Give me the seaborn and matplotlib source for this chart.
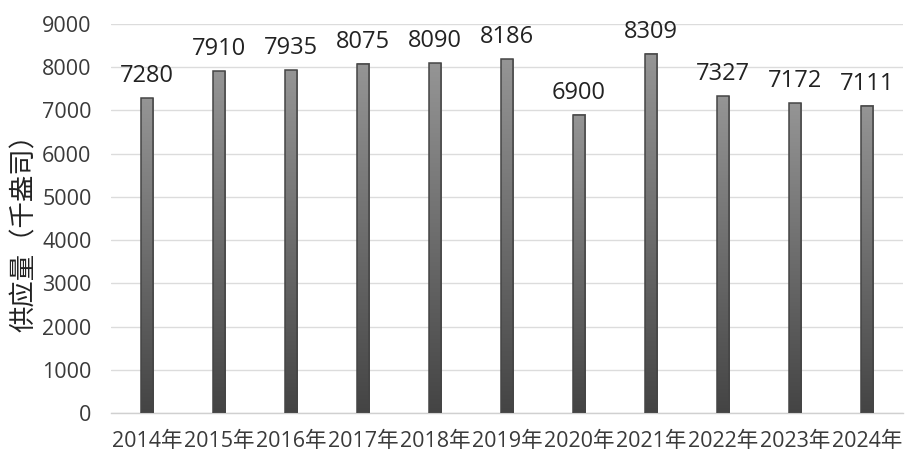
import numpy as np
import pandas as pd
import matplotlib
matplotlib.use("Agg")
import matplotlib.pyplot as plt
import seaborn as sns

years = ["2014年", "2015年", "2016年", "2017年", "2018年", "2019年",
         "2020年", "2021年", "2022年", "2023年", "2024年"]
supply = [7280, 7910, 7935, 8075, 8090, 8186, 6900, 8309, 7327, 7172, 7111]
y_ticks = [0, 1000, 2000, 3000, 4000, 5000, 6000, 7000, 8000, 9000]
y_label = "供应量（千盎司）"

sns.set_theme(style="white")
plt.rcParams['font.family'] = ['Open Sans', 'Noto Sans CJK SC', 'DejaVu Sans']

df = pd.DataFrame({"year": years, "supply": supply})

fig = plt.figure(figsize=(9.13, 4.65), dpi=100)
ax = fig.add_axes([111/913, 1 - 413/465, (903 - 111)/913, (413 - 24)/465])

sns.barplot(data=df, x="year", y="supply", ax=ax, width=0.17,
            color="#777777", edgecolor="#454545", linewidth=1.1, zorder=3)

ax.set_yticks(y_ticks)
ax.set_yticklabels([str(t) for t in y_ticks])

# gradient fill
grad = np.linspace(0, 1, 256).reshape(-1, 1)
cmap = matplotlib.colors.LinearSegmentedColormap.from_list(
    "g", ["#444444", "#959595"])
for p in ax.patches:
    x0, y0 = p.get_x(), p.get_y()
    w, h = p.get_width(), p.get_height()
    p.set_facecolor("none")
    ax.imshow(grad, extent=[x0, x0 + w, y0, y0 + h], origin="lower",
              cmap=cmap, aspect="auto", zorder=2, interpolation="bilinear")
ax.set_xlim(-0.5, len(years) - 0.5)
ax.set_ylim(0, 9000)

# value labels
for i, v in enumerate(supply):
    ax.annotate(str(v), xy=(i, v), xytext=(0, 11.5), textcoords="offset points",
                ha="center", va="baseline", fontsize=17, color="#222222")

ax.yaxis.grid(True, color="#dcdcdc", linewidth=1.0, zorder=0)
ax.set_axisbelow(True)
for s in ["top", "right", "left"]:
    ax.spines[s].set_visible(False)
ax.spines["bottom"].set_color("#d0d0d0")
ax.spines["bottom"].set_linewidth(1.0)
ax.tick_params(axis="both", length=0)
ax.tick_params(axis="y", labelsize=15.5, colors="#3a3a3a", pad=14)
ax.tick_params(axis="x", labelsize=15.5, colors="#3a3a3a", pad=13)
ax.set_xlabel("")
ax.set_ylabel(y_label, fontsize=19, color="#222222",
              family=['Noto Sans CJK SC', 'DejaVu Sans'])
ax.yaxis.set_label_coords(-0.092, 0.48)

fig.savefig("out.png", dpi=100)
